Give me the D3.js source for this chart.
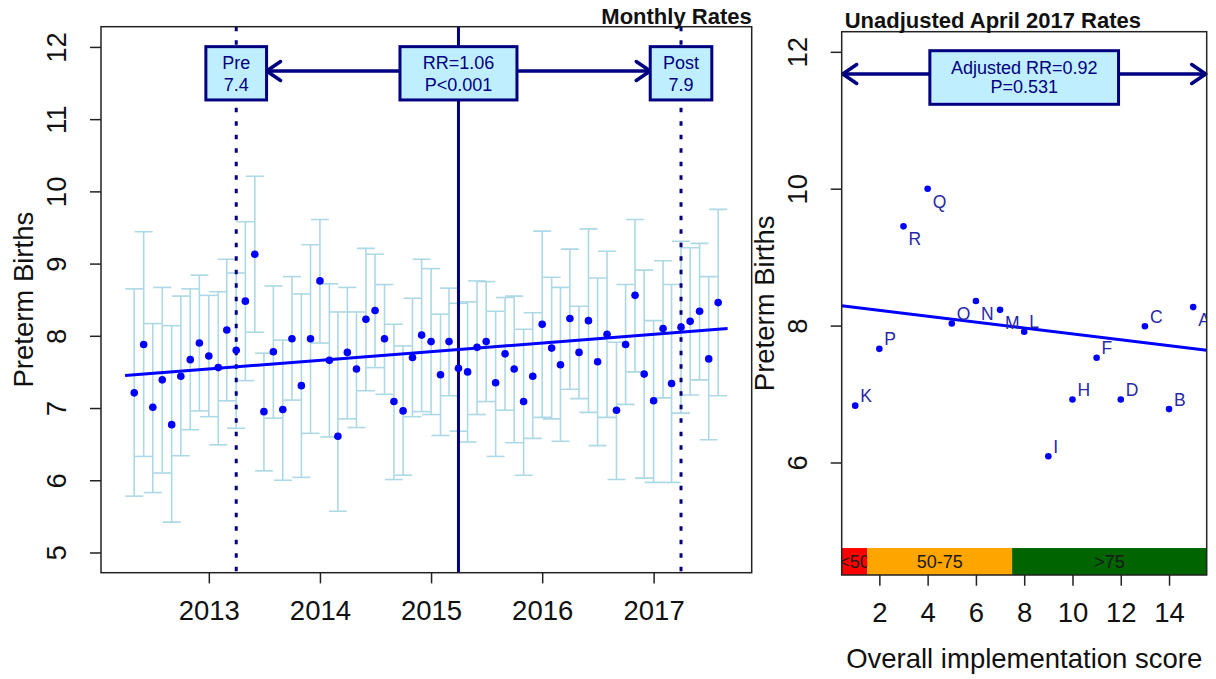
<!DOCTYPE html>
<html>
<head>
<meta charset="utf-8">
<script src="https://cdn.jsdelivr.net/npm/d3@7"></script>
<style>
  body { margin: 0; background: #fff; }
  svg { display: block; }
  text { font-family: "Liberation Sans", Arial, sans-serif; }
</style>
</head>
<body>
<svg id="chart" width="1216" height="679"></svg>
<script>
// ---------- Monthly preterm birth rates (left panel) ----------
const months = d3.timeMonth.range(new Date(2012, 4, 1), new Date(2017, 8, 1)); // May 2012 .. Aug 2017
const monthlyRate = [
  7.21, 7.88, 7.01, 7.39, 6.77, 7.44, 7.67, 7.90, 7.72, 7.56, 8.08, 7.80,
  8.48, 9.13, 6.95, 7.78, 6.98, 7.96, 7.31, 7.96, 8.76, 7.66, 6.61, 7.77,
  7.54, 8.23, 8.35, 7.96, 7.09, 6.96, 7.70, 8.01, 7.92, 7.46, 7.92, 7.55,
  7.50, 7.84, 7.92, 7.35, 7.75, 7.54, 7.09, 7.44, 8.16, 7.83, 7.60, 8.24,
  7.77, 8.21, 7.64, 8.02, 6.97, 7.88, 8.56, 7.47, 7.10, 8.10, 7.34, 8.12,
  8.20, 8.34, 7.68, 8.46
];
const rateLower = [
  5.78, 6.33, 5.83, 6.10, 5.42, 6.34, 6.70, 6.96, 6.88, 6.49, 7.10, 6.72,
  7.38, 8.05, 6.13, 6.86, 6.00, 7.11, 6.04, 6.65, 7.90, 6.60, 5.57, 6.85,
  6.73, 7.24, 7.56, 7.19, 6.01, 6.07, 6.88, 6.95, 6.91, 6.62, 7.17, 6.68,
  6.53, 6.91, 7.09, 6.33, 6.97, 6.52, 6.07, 6.58, 6.87, 6.85, 6.54, 7.26,
  7.13, 6.94, 6.48, 6.87, 6.01, 7.05, 7.50, 6.03, 5.97, 7.14, 5.97, 6.93,
  7.18, 7.39, 6.56, 7.17
];
const rateUpper = [
  8.65, 9.44, 8.17, 8.67, 8.14, 8.55, 8.65, 8.84, 8.56, 8.61, 9.06, 8.87,
  9.58, 10.21, 7.76, 8.69, 7.94, 8.82, 8.58, 9.26, 9.61, 8.72, 8.33, 8.67,
  8.33, 9.21, 9.13, 8.71, 8.16, 7.86, 8.52, 9.06, 8.93, 8.30, 8.66, 8.45,
  8.47, 8.76, 8.75, 8.34, 8.53, 8.55, 8.09, 8.32, 9.45, 8.81, 8.67, 9.20,
  8.41, 9.48, 8.80, 9.17, 7.91, 8.71, 9.61, 8.91, 8.21, 9.04, 8.71, 9.31,
  9.22, 9.28, 8.82, 9.75
];
const yearTicks = [2013, 2014, 2015, 2016, 2017];
const monthlyYTicks = [5, 6, 7, 8, 9, 10, 11, 12];
const monthlyXLim = [new Date(2012, 3, 1), new Date(2017, 8, 1)];
const monthlyYLim = [5, 12];

// Period markers and the trend over the study window
const preDate = new Date(2013, 3, 1);
const changeDate = new Date(2015, 3, 1);
const postDate = new Date(2017, 3, 1);
const trendDates = [new Date(2012, 3, 1), new Date(2017, 8, 1)];
const trendRates = [7.45, 8.10];
const preText = ["Pre", "7.4"];
const testText = ["RR=1.06", "P<0.001"];
const postText = ["Post", "7.9"];

// ---------- April 2017 rates by hospital (right panel) ----------
const hospitals = ["K", "P", "R", "Q", "O", "N", "M", "L", "I", "H", "F", "D", "C", "B", "A"];
const implScore = [1, 2, 3, 4, 5, 6, 7, 8, 9, 10, 11, 12, 13, 14, 15];
const hospitalRate = [6.83, 7.66, 9.45, 10.0, 8.03, 8.36, 8.23, 7.91, 6.09, 6.92, 7.53, 6.92, 7.99, 6.78, 8.27];
const labelSide = ["above", "above", "below", "below", "above", "below", "below", "above",
                   "above", "above", "above", "above", "above", "above", "below"];
const scoreTicks = [2, 4, 6, 8, 10, 12, 14];
const aprilYTicks = [6, 8, 10, 12];
const scoreXLim = [1, 15];
const aprilYLim = [4.65, 12];
const fitIntercept = 8.31;
const fitSlope = -0.043;
const adjText = ["Adjusted RR=0.92", "P=0.531"];
const bandLabels = ["<50", "50-75", ">75"];
const bandBreaks = [1.5, 7.5];
const bandColors = ["#ff0000", "#ffa500", "#006400"];
const bandTop = 4.75;

// ---------- Layout ----------
const svg = d3.select("#chart");
const LP = { left: 101, right: 751.7, top: 26.7, bottom: 572.7 };
const RP = { left: 841.7, right: 1206.7, top: 31.7, bottom: 575 };
const NAVY = "#000080";
const AXIS_FONT = 27.5;
const padRange = (lo, hi) => { const d = (hi - lo) * 0.04; return [lo - d, hi + d]; };

const defs = svg.append("defs");
defs.append("clipPath").attr("id", "clipL").append("rect")
  .attr("x", LP.left).attr("y", LP.top).attr("width", LP.right - LP.left).attr("height", LP.bottom - LP.top);
defs.append("clipPath").attr("id", "clipR").append("rect")
  .attr("x", RP.left).attr("y", RP.top).attr("width", RP.right - RP.left).attr("height", RP.bottom - RP.top);

// Open "V" arrowhead plus shaft, as drawn by base-graphics arrows()
function arrow(g, x0, x1, y) {
  const dir = Math.sign(x1 - x0);
  const along = 14, perp = 9.5;
  g.append("line").attr("x1", x0).attr("x2", x1).attr("y1", y).attr("y2", y)
    .attr("stroke", NAVY).attr("stroke-width", 3.5).attr("stroke-linecap", "round");
  g.append("path")
    .attr("d", `M${x1 - dir * along},${y - perp}L${x1},${y}L${x1 - dir * along},${y + perp}`)
    .attr("fill", "none").attr("stroke", NAVY).attr("stroke-width", 3.5)
    .attr("stroke-linecap", "round").attr("stroke-linejoin", "round");
}
function labelBox(g, cx, cy, w, h, lines, offsets) {
  g.append("rect").attr("x", cx - w / 2).attr("y", cy - h / 2).attr("width", w).attr("height", h)
    .attr("fill", "#bfefff").attr("stroke", NAVY).attr("stroke-width", 3);
  lines.forEach((t, i) => {
    g.append("text").attr("x", cx).attr("y", cy + offsets[i]).attr("text-anchor", "middle")
      .attr("font-size", 18).attr("fill", NAVY).text(t);
  });
}
function styleAxis(g) {
  g.select(".domain").remove();
  g.selectAll(".tick line").attr("stroke", "#222").attr("stroke-width", 1.5);
  g.selectAll(".tick text").attr("font-size", AXIS_FONT).attr("fill", "#111")
    .attr("font-family", "'Liberation Sans', Arial, sans-serif");
}

// ================= Left panel: monthly rates =================
const xPad = (monthlyXLim[1] - monthlyXLim[0]) * 0.04;
const x = d3.scaleTime()
  .domain([new Date(+monthlyXLim[0] - xPad), new Date(+monthlyXLim[1] + xPad)])
  .range([LP.left, LP.right]);
const y = d3.scaleLinear().domain(padRange(...monthlyYLim)).range([LP.bottom, LP.top]);

const left = svg.append("g");
const plotL = left.append("g").attr("clip-path", "url(#clipL)");

// error bars
const series = months.map((d, i) => ({ date: d, rate: monthlyRate[i], lo: rateLower[i], hi: rateUpper[i] }));
const capHalf = 9;
const eb = plotL.append("g").attr("stroke", "#add8e6").attr("stroke-width", 1.6).attr("fill", "none");
series.forEach(d => {
  const cx = x(d.date);
  eb.append("line").attr("x1", cx).attr("x2", cx).attr("y1", y(d.lo)).attr("y2", y(d.hi));
  eb.append("line").attr("x1", cx - capHalf).attr("x2", cx + capHalf).attr("y1", y(d.lo)).attr("y2", y(d.lo));
  eb.append("line").attr("x1", cx - capHalf).attr("x2", cx + capHalf).attr("y1", y(d.hi)).attr("y2", y(d.hi));
});

// period markers
[preDate, postDate].forEach(d => {
  plotL.append("line").attr("x1", x(d)).attr("x2", x(d)).attr("y1", LP.top).attr("y2", LP.bottom)
    .attr("stroke", NAVY).attr("stroke-width", 3).attr("stroke-dasharray", "4.5 9");
});
plotL.append("line").attr("x1", x(changeDate)).attr("x2", x(changeDate)).attr("y1", LP.top).attr("y2", LP.bottom)
  .attr("stroke", NAVY).attr("stroke-width", 3);

// trend
plotL.append("line")
  .attr("x1", x(trendDates[0])).attr("y1", y(trendRates[0]))
  .attr("x2", x(trendDates[1])).attr("y2", y(trendRates[1]))
  .attr("stroke", "#0000ff").attr("stroke-width", 3);

// monthly points
plotL.append("g").selectAll("circle").data(series).join("circle")
  .attr("cx", d => x(d.date)).attr("cy", d => y(d.rate)).attr("r", 3.8).attr("fill", "#0000ff");

// pre / post comparison annotation
const annL = left.append("g");
const arrowYL = 71, boxCYL = 73.3, boxHL = 53.3;
const cxPre = x(preDate), cxChange = x(changeDate), cxPost = x(postDate);
const wPre = 60.7, wChange = 117, wPost = 61.6;
arrow(annL, cxChange - wChange / 2, cxPre + wPre / 2, arrowYL);
arrow(annL, cxChange + wChange / 2, cxPost - wPost / 2, arrowYL);
labelBox(annL, cxPre, boxCYL, wPre, boxHL, preText, [-4, 17.4]);
labelBox(annL, cxChange, boxCYL, wChange, boxHL, testText, [-4, 17.4]);
labelBox(annL, cxPost, boxCYL, wPost, boxHL, postText, [-4, 17.4]);

// axes
const xAxisL = left.append("g").attr("transform", `translate(0,${LP.bottom})`)
  .call(d3.axisBottom(x).tickValues(yearTicks.map(yr => new Date(yr, 0, 1)))
    .tickFormat(d3.timeFormat("%Y")).tickSize(10.7).tickSizeOuter(0));
styleAxis(xAxisL);
xAxisL.selectAll(".tick text").attr("y", 47.3).attr("dy", null);

const yAxisL = left.append("g").attr("transform", `translate(${LP.left},0)`)
  .call(d3.axisLeft(y).tickValues(monthlyYTicks).tickFormat(d3.format("d")).tickSize(11).tickSizeOuter(0));
styleAxis(yAxisL);
yAxisL.selectAll(".tick text").attr("x", null).attr("dy", null)
  .attr("text-anchor", "middle").attr("transform", "translate(-35,0) rotate(-90)");

left.append("rect").attr("x", LP.left).attr("y", LP.top)
  .attr("width", LP.right - LP.left).attr("height", LP.bottom - LP.top)
  .attr("fill", "none").attr("stroke", "#222").attr("stroke-width", 1.5);

left.append("text").attr("transform", `translate(33,${(LP.top + LP.bottom) / 2}) rotate(-90)`)
  .attr("text-anchor", "middle").attr("font-size", AXIS_FONT).attr("fill", "#111").text("Preterm Births");
left.append("text").attr("x", LP.right).attr("y", 24).attr("text-anchor", "end")
  .attr("font-size", 22).attr("font-weight", "bold").attr("fill", "#111").text("Monthly Rates");

// ================= Right panel: April 2017 by implementation score =================
const xs = d3.scaleLinear().domain(padRange(...scoreXLim)).range([RP.left, RP.right]);
const ys = d3.scaleLinear().domain(padRange(...aprilYLim)).range([RP.bottom, RP.top]);

const right = svg.append("g");
const plotR = right.append("g").attr("clip-path", "url(#clipR)");

// implementation bands along the bottom
const [xMin, xMax] = xs.domain();
const edges = [xMin, ...bandBreaks, xMax];
bandLabels.forEach((lab, i) => {
  const x0 = xs(edges[i]), x1 = xs(edges[i + 1]);
  plotR.append("rect").attr("x", x0).attr("y", ys(bandTop)).attr("width", x1 - x0)
    .attr("height", ys(ys.domain()[0]) - ys(bandTop)).attr("fill", bandColors[i]);
  plotR.append("text").attr("x", (x0 + x1) / 2).attr("y", (ys(bandTop) + ys(ys.domain()[0])) / 2 + 6.4)
    .attr("text-anchor", "middle").attr("font-size", 18).attr("fill", "#1a1a1a").text(lab);
});

// fitted line
plotR.append("line")
  .attr("x1", xs(xMin)).attr("y1", ys(fitIntercept + fitSlope * xMin))
  .attr("x2", xs(xMax)).attr("y2", ys(fitIntercept + fitSlope * xMax))
  .attr("stroke", "#0000ff").attr("stroke-width", 3);

// hospital points and letters
const hosp = hospitals.map((h, i) => ({ h, s: implScore[i], r: hospitalRate[i], side: labelSide[i] }));
plotR.append("g").selectAll("circle").data(hosp).join("circle")
  .attr("cx", d => xs(d.s)).attr("cy", d => ys(d.r)).attr("r", 3.3).attr("fill", "#0000ff");
plotR.append("g").selectAll("text").data(hosp).join("text")
  .attr("x", d => xs(d.s) + 5)
  .attr("y", d => ys(d.r) + (d.side === "above" ? -3.5 : 19))
  .attr("font-size", 17.5).attr("fill", "#2828a8").text(d => d.h);

// adjusted comparison annotation
const annR = right.append("g");
const arrowYR = 74, boxCYR = 77.5, boxHR = 53.6, wAdj = 188.7;
const cxAdj = xs(8);
arrow(annR, cxAdj - wAdj / 2, RP.left + 1, arrowYR);
arrow(annR, cxAdj + wAdj / 2, RP.right - 1, arrowYR);
labelBox(annR, cxAdj, boxCYR, wAdj, boxHR, adjText, [-3.5, 15.8]);

// axes
const xAxisR = right.append("g").attr("transform", `translate(0,${RP.bottom})`)
  .call(d3.axisBottom(xs).tickValues(scoreTicks).tickFormat(d3.format("d")).tickSize(10.7).tickSizeOuter(0));
styleAxis(xAxisR);
xAxisR.selectAll(".tick text").attr("y", 47.3).attr("dy", null);

const yAxisR = right.append("g").attr("transform", `translate(${RP.left},0)`)
  .call(d3.axisLeft(ys).tickValues(aprilYTicks).tickFormat(d3.format("d")).tickSize(11).tickSizeOuter(0));
styleAxis(yAxisR);
yAxisR.selectAll(".tick text").attr("x", null).attr("dy", null)
  .attr("text-anchor", "middle").attr("transform", "translate(-35,0) rotate(-90)");

right.append("rect").attr("x", RP.left).attr("y", RP.top)
  .attr("width", RP.right - RP.left).attr("height", RP.bottom - RP.top)
  .attr("fill", "none").attr("stroke", "#222").attr("stroke-width", 1.5);

right.append("text").attr("transform", `translate(${RP.left - 67.7},${(RP.top + RP.bottom) / 2}) rotate(-90)`)
  .attr("text-anchor", "middle").attr("font-size", AXIS_FONT).attr("fill", "#111").text("Preterm Births");
right.append("text").attr("x", (RP.left + RP.right) / 2).attr("y", 668.3)
  .attr("text-anchor", "middle").attr("font-size", AXIS_FONT).attr("fill", "#111").text("Overall implementation score");
right.append("text").attr("x", RP.left + 3).attr("y", 28.3)
  .attr("font-size", 22).attr("font-weight", "bold").attr("fill", "#111").text("Unadjusted April 2017 Rates");
</script>
</body>
</html>
